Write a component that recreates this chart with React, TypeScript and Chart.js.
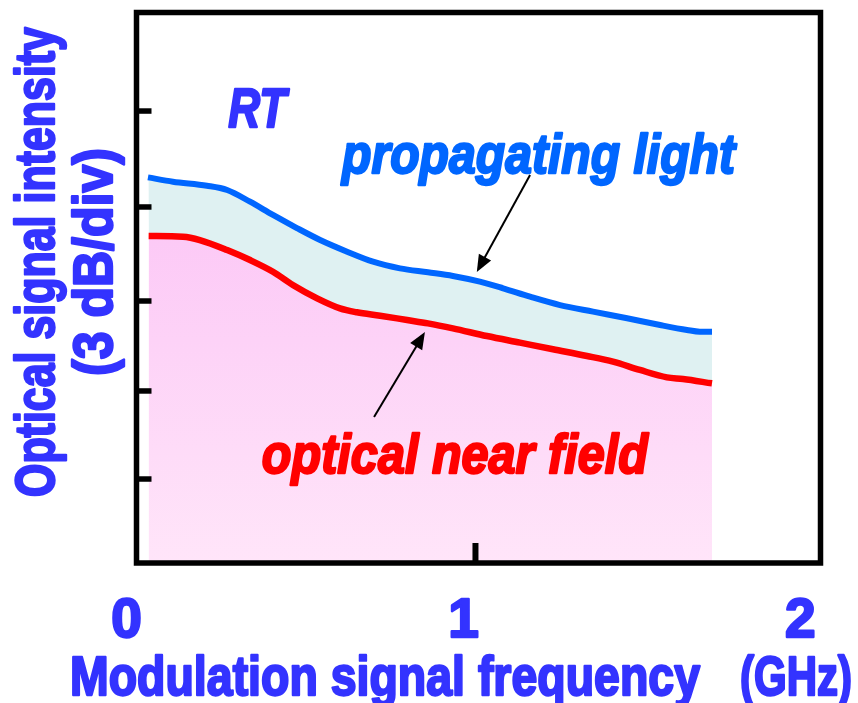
import { useEffect, useRef } from 'react';
import { Chart, registerables } from 'chart.js';

Chart.register(...registerables);

// ---- data (frequency in GHz, level in divisions of 3 dB) ----
const blueFreq = [0.028, 0.102, 0.203, 0.263, 0.331, 0.399, 0.470, 0.539, 0.619, 0.696, 0.776, 0.859, 0.933, 1.013, 1.082, 1.162, 1.251, 1.349, 1.450, 1.548, 1.628, 1.666, 1.702];
const blueLevel = [4.192, 4.145, 4.101, 4.054, 3.927, 3.783, 3.641, 3.511, 3.384, 3.275, 3.203, 3.160, 3.120, 3.058, 2.986, 2.895, 2.804, 2.732, 2.660, 2.587, 2.533, 2.514, 2.514];
const redFreq = [0.030, 0.132, 0.182, 0.263, 0.331, 0.399, 0.458, 0.530, 0.598, 0.648, 0.717, 0.797, 0.859, 0.933, 1.034, 1.132, 1.230, 1.331, 1.408, 1.488, 1.568, 1.616, 1.702];
const redLevel = [3.554, 3.547, 3.511, 3.402, 3.293, 3.166, 3.022, 2.877, 2.768, 2.725, 2.688, 2.641, 2.605, 2.551, 2.467, 2.395, 2.323, 2.250, 2.188, 2.098, 2.018, 2.000, 1.953];

const xTickValues = [0, 1, 2];
const xTickLabels = ['0', '1', '2'];
const yTickValues = [0.913, 1.870, 2.848, 3.870, 4.913];

const xTitle = 'Modulation signal frequency';
const xUnit = '(GHz)';
const yTitle1 = 'Optical signal intensity';
const yTitle2 = '(3 dB/div)';
const labelRT = 'RT';
const labelProp = 'propagating light';
const labelNear = 'optical near field';

const FONT = "'Liberation Sans Narrow', 'Liberation Sans', 'DejaVu Sans', sans-serif";
const AXIS_BLUE = '#3333FF';

function drawFit(ctx: CanvasRenderingContext2D, text: string, x: number, y: number, w: number, font: string, color: string, stroke = 2.4) {
  ctx.save();
  ctx.font = font;
  ctx.textAlign = 'left';
  ctx.textBaseline = 'alphabetic';
  const m = ctx.measureText(text).width;
  ctx.translate(x, y);
  ctx.scale(w / m, 1);
  ctx.fillStyle = color;
  ctx.strokeStyle = color;
  ctx.lineWidth = stroke;
  ctx.lineJoin = 'round';
  ctx.fillText(text, 0, 0);
  if (stroke > 0) ctx.strokeText(text, 0, 0);
  ctx.restore();
}

function drawArrow(ctx: CanvasRenderingContext2D, x1: number, y1: number, x2: number, y2: number) {
  const ang = Math.atan2(y2 - y1, x2 - x1);
  const head = 17;
  const half = 7;
  ctx.save();
  ctx.strokeStyle = '#000';
  ctx.fillStyle = '#000';
  ctx.lineWidth = 2;
  ctx.beginPath();
  ctx.moveTo(x1, y1);
  ctx.lineTo(x2 - Math.cos(ang) * head * 0.8, y2 - Math.sin(ang) * head * 0.8);
  ctx.stroke();
  ctx.beginPath();
  ctx.moveTo(x2, y2);
  ctx.lineTo(x2 - Math.cos(ang) * head - Math.sin(ang) * half, y2 - Math.sin(ang) * head + Math.cos(ang) * half);
  ctx.lineTo(x2 - Math.cos(ang) * head + Math.sin(ang) * half, y2 - Math.sin(ang) * head - Math.cos(ang) * half);
  ctx.closePath();
  ctx.fill();
  ctx.restore();
}

const decorPlugin = {
  id: 'decor',
  afterDraw(chart: any) {
    const { ctx, chartArea: a, scales } = chart;
    const xs = scales.x;
    const ys = scales.y;
    const px = (v: number) => xs.getPixelForValue(v);
    const py = (v: number) => ys.getPixelForValue(v);

    ctx.save();
    ctx.strokeStyle = '#000';
    ctx.lineWidth = 5.5;
    ctx.strokeRect(a.left, a.top, a.right - a.left, a.bottom - a.top);
    yTickValues.forEach((v) => {
      const y = py(v);
      ctx.beginPath();
      ctx.moveTo(a.left, y);
      ctx.lineTo(a.left + 15, y);
      ctx.stroke();
    });
    ctx.lineWidth = 6;
    ctx.beginPath();
    ctx.moveTo(px(1), a.bottom);
    ctx.lineTo(px(1), a.bottom - 20);
    ctx.stroke();
    ctx.restore();

    // x tick labels
    xTickValues.forEach((v, i) => {
      ctx.save();
      ctx.font = `bold 55px ${FONT}`;
      const w = ctx.measureText(xTickLabels[i]).width;
      ctx.restore();
      drawFit(ctx, xTickLabels[i], px(v) - 12 - w / 2, 637, w, `bold 55px ${FONT}`, AXIS_BLUE);
    });

    // axis titles
    drawFit(ctx, xTitle, 70, 695, 630, `bold 55px ${FONT}`, AXIS_BLUE);
    drawFit(ctx, xUnit, 740, 695, 112, `bold 55px ${FONT}`, AXIS_BLUE);

    ctx.save();
    ctx.translate(54, 262);
    ctx.rotate(-Math.PI / 2);
    drawFit(ctx, yTitle1, -235, 0, 470, `bold 56px ${FONT}`, AXIS_BLUE);
    ctx.restore();
    ctx.save();
    ctx.translate(112, 262);
    ctx.rotate(-Math.PI / 2);
    drawFit(ctx, yTitle2, -114, 0, 228, `bold 56px ${FONT}`, AXIS_BLUE);
    ctx.restore();

    // in-plot labels (anchored in data units)
    drawFit(ctx, labelRT, px(0.266), py(4.739), 58, `italic bold 56px ${FONT}`, AXIS_BLUE);
    drawFit(ctx, labelProp, px(0.604), py(4.239), 393, `italic bold 55px ${FONT}`, '#0066FF');
    drawFit(ctx, labelNear, px(0.366), py(0.978), 386, `italic bold 55px ${FONT}`, '#FF0000');

    drawArrow(ctx, px(1.162), py(4.217), px(1.004), py(3.163));
    drawArrow(ctx, px(0.699), py(1.587), px(0.850), py(2.511));
  },
};

export default function App() {
  const ref = useRef<HTMLCanvasElement | null>(null);

  useEffect(() => {
    if (!ref.current) return;
    const chart = new Chart(ref.current, {
      type: 'line',
      data: {
        datasets: [
          {
            label: 'optical near field',
            data: redFreq.map((x, i) => ({ x, y: redLevel[i] })),
            borderColor: '#FF0000',
            borderWidth: 6.5,
            pointRadius: 0,
            cubicInterpolationMode: 'monotone',
            fill: 'start',
            backgroundColor: (c: any) => {
              const ch = c.chart;
              const a = ch.chartArea;
              if (!a) return '#FCCBF6';
              const g = ch.ctx.createLinearGradient(0, a.top, 0, a.bottom);
              g.addColorStop(0, '#FBC4F5');
              g.addColorStop(0.4, '#FCC9F6');
              g.addColorStop(1, '#FFE5F9');
              return g;
            },
          },
          {
            label: 'propagating light',
            data: blueFreq.map((x, i) => ({ x, y: blueLevel[i] })),
            borderColor: '#0066FF',
            borderWidth: 6,
            pointRadius: 0,
            cubicInterpolationMode: 'monotone',
            fill: '-1',
            backgroundColor: '#DFF1F2',
          },
        ],
      },
      options: {
        animation: false,
        responsive: false,
        layout: { padding: { left: 136.5, right: 37.5, top: 12.5, bottom: 140 } },
        scales: {
          x: { type: 'linear', min: -0.006, max: 2.024, display: false },
          y: { type: 'linear', min: 0, max: 5.984, display: false },
        },
        plugins: { legend: { display: false }, tooltip: { enabled: false } },
      },
      plugins: [decorPlugin],
    } as any);
    return () => chart.destroy();
  }, []);

  return (
    <div style={{ position: 'fixed', left: 0, top: 0, width: 858, height: 703, background: '#fff' }}>
      <canvas ref={ref} width={858} height={703} style={{ width: 858, height: 703, display: 'block' }} />
    </div>
  );
}
